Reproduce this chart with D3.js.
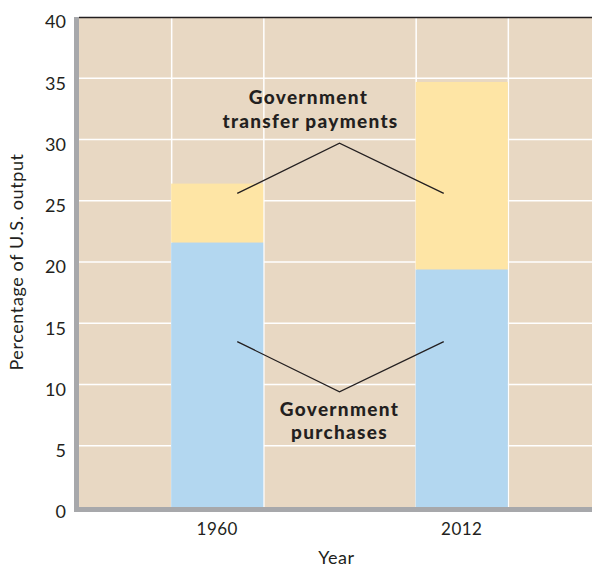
<!DOCTYPE html>
<html>
<head>
<meta charset="utf-8">
<script src="https://cdn.jsdelivr.net/npm/d3@7"></script>
<style>
  html, body { margin: 0; padding: 0; background: #fff; }
  svg { display: block; }
  text { font-family: Lato, "Open Sans", sans-serif; fill: #231F20; }
</style>
</head>
<body>
<svg id="chart" width="592" height="569"></svg>
<script>
// ---- data ----
const years = ["1960", "2012"];
const purchases = [21.6, 19.4];
const transfers = [4.8, 15.3];
const yTicks = [0, 5, 10, 15, 20, 25, 30, 35, 40];
const seriesNames = ["Government purchases", "Government transfer payments"];
const annotationLabels = [["Government", "transfer payments"], ["Government", "purchases"]];

// ---- layout ----
const W = 592, H = 569;
const mLeft = 79, mRight = 600, mTop = 17, mBottom = 507;
const svg = d3.select("#chart");

const x = d3.scaleBand().domain(years).range([mLeft, mRight])
  .paddingInner(0.623).paddingOuter(0.377);
const y = d3.scaleLinear().domain([0, 40]).range([mBottom, mTop]);

// background
svg.append("rect").attr("x", mLeft).attr("y", mTop)
  .attr("width", W - mLeft).attr("height", mBottom - mTop)
  .attr("fill", "#E8D8C3");

// horizontal gridlines
svg.append("g").selectAll("line").data(yTicks.filter(d => d > 0 && d < 40)).join("line")
  .attr("x1", mLeft).attr("x2", W)
  .attr("y1", d => y(d)).attr("y2", d => y(d))
  .attr("stroke", "#FFFFFF").attr("stroke-width", 1.5);

// vertical gridlines at bar edges
const edges = [];
years.forEach(yr => { edges.push(x(yr)); edges.push(x(yr) + x.bandwidth()); });
svg.append("g").selectAll("line").data(edges).join("line")
  .attr("x1", d => d + 0.5).attr("x2", d => d + 0.5)
  .attr("y1", mTop).attr("y2", mBottom)
  .attr("stroke", "#FFFFFF").attr("stroke-width", 1.5);

// stacked bars
const rows = years.map((yr, i) => ({ year: yr, purchases: purchases[i], transfers: transfers[i] }));
const stack = d3.stack().keys(["purchases", "transfers"])(rows);
const colors = { purchases: "#B3D7F0", transfers: "#FEE5A5" };
svg.append("g").selectAll("g").data(stack).join("g")
  .attr("fill", s => colors[s.key])
  .selectAll("rect").data(s => s).join("rect")
  .attr("x", d => x(d.data.year))
  .attr("width", x.bandwidth())
  .attr("y", d => y(d[1]))
  .attr("height", d => y(d[0]) - y(d[1]));

// top border
svg.append("line").attr("x1", mLeft).attr("x2", W)
  .attr("y1", mTop + 0.5).attr("y2", mTop + 0.5)
  .attr("stroke", "#231F20").attr("stroke-width", 1.5);

// axes frame (gray)
svg.append("rect").attr("x", mLeft - 5).attr("y", mTop).attr("width", 5)
  .attr("height", mBottom - mTop + 5).attr("fill", "#A7A8AB");
svg.append("rect").attr("x", mLeft - 5).attr("y", mBottom).attr("width", W - mLeft + 5)
  .attr("height", 5).attr("fill", "#A7A8AB");

// y axis labels
const yAxis = d3.axisLeft(y).tickValues(yTicks).tickSize(0).tickPadding(12);
const gy = svg.append("g").attr("transform", `translate(${mLeft - 1},0)`).call(yAxis);
gy.select(".domain").remove();
gy.selectAll("text").style("font-size", "18px").style("font-family", "Lato, sans-serif")
  .style("fill", "#231F20").attr("dy", "0.6em");

// x axis labels
const xAxis = d3.axisBottom(x).tickSize(0).tickPadding(16);
const gx = svg.append("g").attr("transform", `translate(0,${mBottom})`).call(xAxis);
gx.select(".domain").remove();
gx.selectAll("text").style("font-size", "17px").style("font-family", "Lato, sans-serif")
  .style("fill", "#231F20").attr("letter-spacing", "0.5px");

// axis titles
svg.append("text").attr("x", (mLeft + 592) / 2 + 1).attr("y", 564)
  .attr("text-anchor", "middle").style("font-size", "18px").attr("letter-spacing", "0.5px").text("Year");
svg.append("text")
  .attr("transform", `translate(23,262) rotate(-90)`)
  .attr("text-anchor", "middle").style("font-size", "18px").attr("letter-spacing", "0.6px")
  .text("Percentage of U.S. output");

// annotations: brackets
const c0 = x(years[0]) + x.bandwidth() / 2, c1 = x(years[1]) + x.bandwidth() / 2;
const mid = (c0 + c1) / 2;
const lineGen = d3.line();
svg.append("path")
  .attr("d", lineGen([[c0 + 20, y(25.6)], [mid, y(29.7)], [c1 - 18, y(25.6)]]))
  .attr("fill", "none").attr("stroke", "#231F20").attr("stroke-width", 1.3);
svg.append("path")
  .attr("d", lineGen([[c0 + 20, y(13.5)], [mid, y(9.4)], [c1 - 18, y(13.5)]]))
  .attr("fill", "none").attr("stroke", "#231F20").attr("stroke-width", 1.3);

// annotation texts
const t1 = svg.append("text").attr("text-anchor", "middle")
  .style("font-size", "19px").attr("font-weight", 900).attr("letter-spacing", "1.3px");
t1.append("tspan").attr("x", mid - 31).attr("y", y(32.9)).text(annotationLabels[0][0]);
t1.append("tspan").attr("x", mid - 29).attr("y", y(30.95)).text(annotationLabels[0][1]);
const t2 = svg.append("text").attr("text-anchor", "middle")
  .style("font-size", "19px").attr("font-weight", 900).attr("letter-spacing", "1.3px");
t2.append("tspan").attr("x", mid).attr("y", y(7.43)).text(annotationLabels[1][0]);
t2.append("tspan").attr("x", mid).attr("y", y(5.55)).text(annotationLabels[1][1]);
</script>
</body>
</html>
